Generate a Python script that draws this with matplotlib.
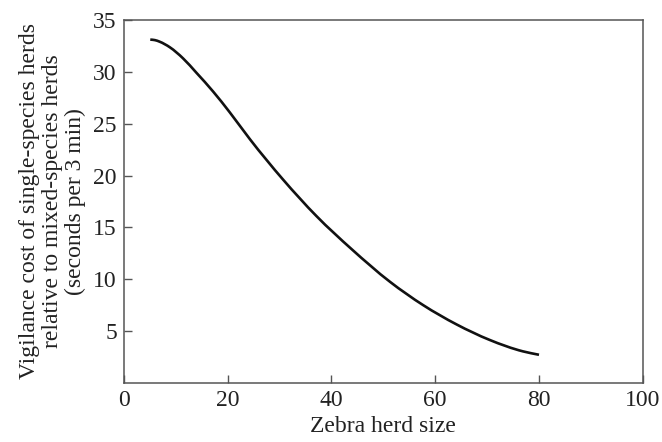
import numpy as np
import matplotlib
matplotlib.use("Agg")
from matplotlib import pyplot as plt
from matplotlib.path import Path
from matplotlib.patches import PathPatch

# values
herd_size = [5.1, 6.0, 6.9, 8.9, 11.4, 14.0, 17.2, 20.4, 24.3, 30.7, 37.1, 43.9,
             51.3, 57.7, 64.1, 70.5, 76.9, 80.0]
vigilance_cost = [33.1, 33.05, 32.9, 32.35, 31.3, 29.9, 28.1, 26.1, 23.5, 19.6, 16.1, 12.9,
                  9.75, 7.5, 5.65, 4.15, 3.05, 2.72]

x_ticks = [0, 20, 40, 60, 80, 100]
y_ticks = [5, 10, 15, 20, 25, 30, 35]

plt.rcParams['font.family'] = ['Liberation Serif', 'DejaVu Serif']

fig = plt.figure(figsize=(6.62, 4.42), dpi=100)
ax = fig.add_axes([0.187, 0.1335, 0.784, 0.8215])

# smooth line through the read points, drawn as bezier segments
x = np.array(herd_size)
y = np.array(vigilance_cost)
m = np.gradient(y, x)
verts = [(x[0], y[0])]
codes = [Path.MOVETO]
for i in range(len(x) - 1):
    h = x[i + 1] - x[i]
    verts += [(x[i] + h / 3, y[i] + m[i] * h / 3),
              (x[i + 1] - h / 3, y[i + 1] - m[i + 1] * h / 3),
              (x[i + 1], y[i + 1])]
    codes += [Path.CURVE4] * 3
ax.add_patch(PathPatch(Path(verts, codes), fill=False, edgecolor='#111111',
                       lw=1.9, capstyle='butt'))

ax.set_xlim(0, 100)
ax.set_ylim(0, 35)
ax.set_xticks(x_ticks)
ax.set_yticks(y_ticks)
ax.tick_params(direction='in', length=6, width=1, color='#555555',
               labelsize=17, labelcolor='#222222', pad=5)
for s in ax.spines.values():
    s.set_color('#555555')
    s.set_linewidth(1.1)

ax.set_xlabel('Zebra herd size', fontsize=17, color='#222222', labelpad=4)
ax.set_ylabel('Vigilance cost of single-species herds\nrelative to mixed-species herds\n(seconds per 3 min)',
              fontsize=17, color='#222222', labelpad=5, linespacing=1.12)

fig.savefig('out.png', dpi=100)
